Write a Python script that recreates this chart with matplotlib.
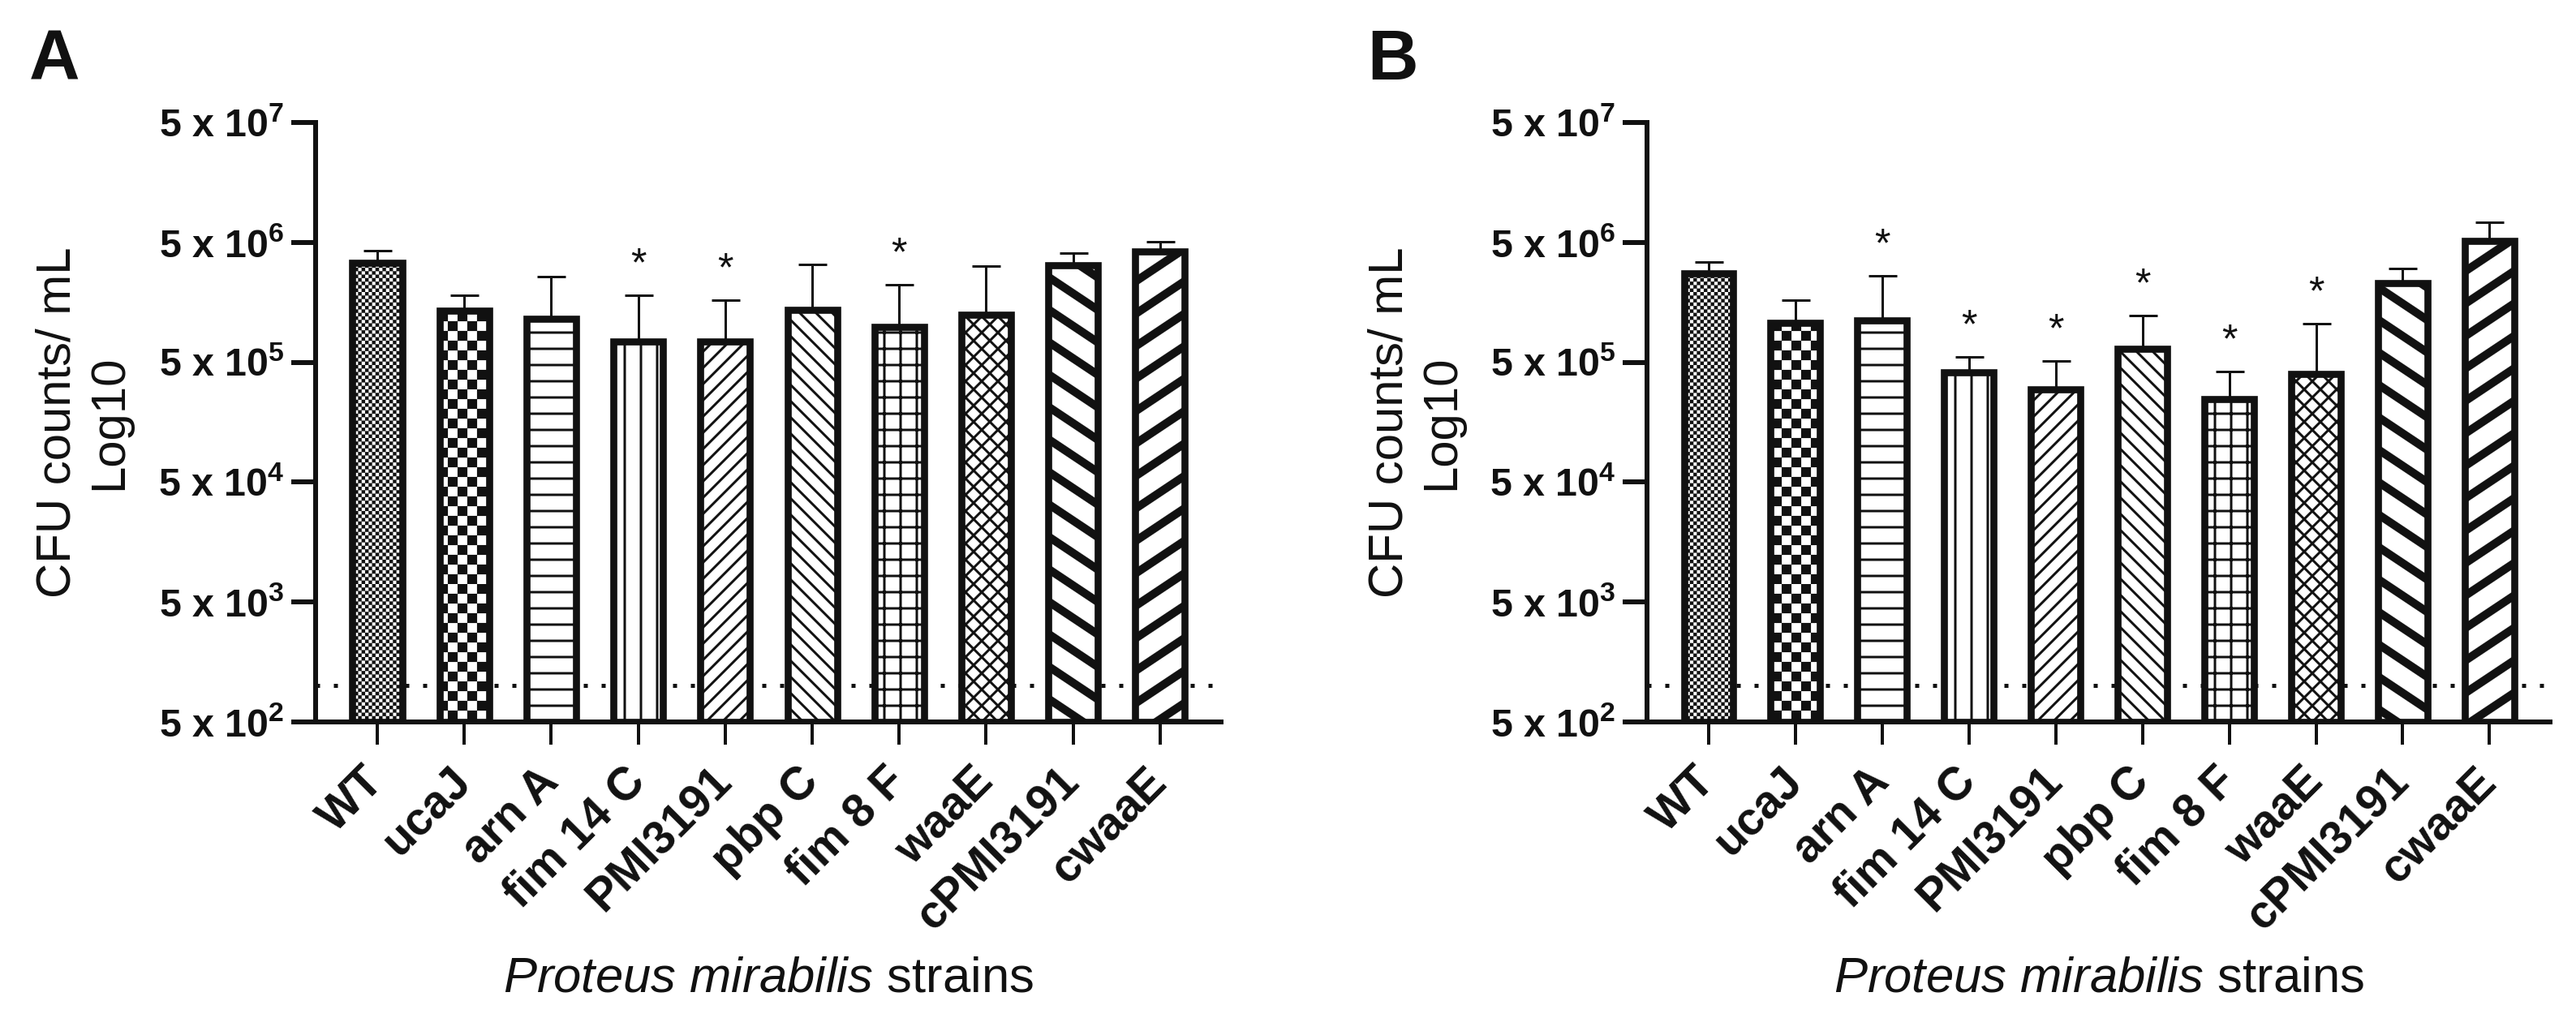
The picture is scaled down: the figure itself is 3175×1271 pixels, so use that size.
import warnings
import numpy as np
import matplotlib
matplotlib.use("Agg")
import matplotlib.pyplot as plt
from matplotlib import hatch as mhatch
from matplotlib.path import Path
from matplotlib.ticker import NullLocator

warnings.filterwarnings("ignore")

# data (CFU/mL, bar mean and top of error bar)
strains = ["WT", "ucaJ", "arn A", "fim 14 C", "PMI3191", "pbp C",
           "fim 8 F", "waaE", "cPMI3191", "cwaaE"]

mean_a = [3.40e6, 1.35e6, 1.16e6, 7.5e5, 7.4e5, 1.37e6, 9.9e5, 1.25e6, 3.24e6, 4.22e6]
top_a = [4.28e6, 1.82e6, 2.60e6, 1.82e6, 1.66e6, 3.29e6, 2.23e6, 3.18e6, 4.08e6, 5.08e6]
sig_a = [0, 0, 0, 1, 1, 0, 1, 0, 0, 0]

mean_b = [2.77e6, 1.07e6, 1.11e6, 4.15e5, 2.99e5, 6.51e5, 2.48e5, 4.02e5, 2.30e6, 5.16e6]
top_b = [3.44e6, 1.66e6, 2.64e6, 5.57e5, 5.16e5, 1.23e6, 4.21e5, 1.05e6, 3.04e6, 7.38e6]
sig_b = [0, 0, 1, 1, 1, 1, 1, 1, 0, 0]

detection_limit = 1000
ytick_vals = [5e2, 5e3, 5e4, 5e5, 5e6, 5e7]
ytick_labels = [r"$\mathbf{5\ x\ 10^{%d}}$" % k for k in range(2, 8)]

# hatch for every strain ('k' fine checker, 'c' coarse checker,
# 'L'/'R' thick stripes are custom patterns defined below)
patterns = ["k", "c", "-", "|", "//", "\\\\", "+", "xx", "R", "L"]
hatch_lw = [0.1, 0.1, 1.8, 1.8, 1.8, 1.8, 1.8, 1.8, 0.1, 0.1]


class Checker(mhatch.HatchPatternBase):
    def __init__(self, hatch, density):
        self.n = 28 if "k" in hatch else (10 if "c" in hatch else 0)
        self.num_vertices = (self.n * self.n // 2) * 5

    def set_vertices_and_codes(self, vertices, codes):
        n = self.n
        sq = []
        for i in range(n):
            for j in range(n):
                if (i + j) % 2 == 0:
                    sq.append([(i / n, j / n), ((i + 1) / n, j / n),
                               ((i + 1) / n, (j + 1) / n), (i / n, (j + 1) / n),
                               (i / n, j / n)])
        vertices[:] = np.array(sq).reshape(-1, 2)
        codes[:] = np.tile([Path.MOVETO, Path.LINETO, Path.LINETO,
                            Path.LINETO, Path.CLOSEPOLY], len(sq))


class Stripes(mhatch.HatchPatternBase):
    def __init__(self, hatch, density):
        self.sign = 1 if "L" in hatch else (-1 if "R" in hatch else 0)
        self.ks = range(-4, 8)
        self.num_vertices = len(self.ks) * 5 if self.sign else 0

    def set_vertices_and_codes(self, vertices, codes):
        n, w, s = 3, 0.1, 2 / 3
        polys = []
        for k in self.ks:
            a = k / n
            b = a + self.sign * s
            polys.append([(0, a - w / 2), (1, b - w / 2), (1, b + w / 2),
                          (0, a + w / 2), (0, a - w / 2)])
        vertices[:] = np.array(polys).reshape(-1, 2)
        codes[:] = np.tile([Path.MOVETO, Path.LINETO, Path.LINETO,
                            Path.LINETO, Path.CLOSEPOLY], len(polys))


mhatch._hatch_types.extend([Checker, Stripes])

plt.rcParams["font.family"] = ["Liberation Sans", "DejaVu Sans"]
plt.rcParams["mathtext.fontset"] = "custom"
plt.rcParams["mathtext.rm"] = "Liberation Sans"
plt.rcParams["mathtext.bf"] = "Liberation Sans:bold"
plt.rcParams["mathtext.it"] = "Liberation Sans:italic"

ink = "#111111"
dpi = 120
fig = plt.figure(figsize=(3175 / dpi, 1271 / dpi), dpi=dpi)
ax_a = fig.add_axes([0.1225, 0.2998, 0.3515, 0.5814])
ax_b = fig.add_axes([0.6394, 0.2998, 0.3506, 0.5814])


def draw_panel(ax, means, tops, sig):
    x = np.arange(len(strains))
    y0 = ytick_vals[0]
    means = np.array(means)
    tops = np.array(tops)
    ax.set_yscale("log")
    ax.axhline(detection_limit, color=ink, lw=3, ls=(0, (1, 3.4)), zorder=1)
    bars = ax.bar(x, means - y0, bottom=y0, width=0.57, color="white",
                  edgecolor=ink, linewidth=5.2, zorder=3)
    for b, p, lw in zip(bars, patterns, hatch_lw):
        b.set_hatch(p)
        if hasattr(b, "set_hatch_linewidth"):
            b.set_hatch_linewidth(lw)
    ax.errorbar(x, means, yerr=[np.zeros(len(x)), tops - means], fmt="none",
                ecolor=ink, elinewidth=1.8, capsize=10.5, capthick=1.8, zorder=2)
    for xi, t, s in zip(x, tops, sig):
        if s:
            ax.annotate("*", (xi, t), xytext=(0, 8), textcoords="offset points",
                        ha="center", va="bottom", fontsize=30, color=ink)

    ax.set_xlim(-0.71, 9.7)
    ax.set_ylim(ytick_vals[0], ytick_vals[-1])
    ax.set_yticks(ytick_vals)
    ax.set_yticklabels(ytick_labels, fontsize=29)
    ax.yaxis.set_minor_locator(NullLocator())
    ax.set_xticks(x)
    ax.set_xticklabels(strains, rotation=45, ha="right", va="center",
                       rotation_mode="anchor", fontsize=34, fontweight="bold")
    ax.tick_params(axis="y", length=18, width=3.6, pad=5, colors=ink)
    ax.tick_params(axis="x", length=17, width=2.4, pad=22, colors=ink)
    for side in ("top", "right"):
        ax.spines[side].set_visible(False)
    for side in ("left", "bottom"):
        ax.spines[side].set_linewidth(3.6)
        ax.spines[side].set_color(ink)

    ax.set_ylabel("CFU counts/ mL\nLog10", fontsize=36, color=ink)
    ax.yaxis.set_label_coords(-0.203, 0.5)
    ax.set_xlabel(r"$\mathit{Proteus\ mirabilis}$ strains", fontsize=37, color=ink,
                  va="top")
    ax.xaxis.set_label_coords(0.5, -0.39)


draw_panel(ax_a, mean_a, top_a, sig_a)
draw_panel(ax_b, mean_b, top_b, sig_b)

fig.text(36 / 3175, 1 - 98 / 1271, "A", fontsize=52, fontweight="bold", color=ink)
fig.text(1685 / 3175, 1 - 98 / 1271, "B", fontsize=52, fontweight="bold", color=ink)

fig.savefig("out.png", dpi=dpi)
